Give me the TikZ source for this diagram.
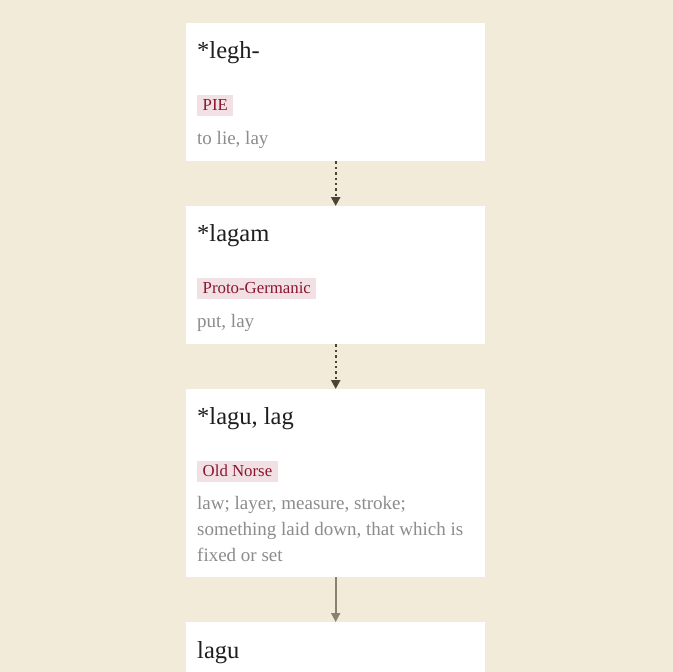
\documentclass[tikz,border=0pt]{standalone}
\usepackage{fontspec}
\setmainfont{Liberation Serif}
\usetikzlibrary{arrows.meta}
\definecolor{bgc}{HTML}{F2EBDA}
\definecolor{tagbg}{HTML}{F1E1E4}
\definecolor{tagfg}{HTML}{8A1530}
\definecolor{defc}{HTML}{8C8C8C}
\definecolor{titlec}{HTML}{1E1E1E}
\definecolor{dotc}{HTML}{4A4436}
\definecolor{solc}{HTML}{8A8271}
\tikzset{
  card/.style={fill=white, draw=none, inner sep=0pt, minimum width=299pt, anchor=north west},
  title/.style={anchor=base west, inner sep=0pt, text=titlec, font=\fontsize{24.5}{28}\selectfont},
  tag/.style={anchor=base west, fill=tagbg, text=tagfg, inner xsep=5.5pt, inner ysep=0pt, text height=15pt, text depth=5.5pt, font=\fontsize{16.8}{19}\selectfont},
  defn/.style={anchor=base west, inner sep=0pt, text=defc, font=\fontsize{19}{26}\selectfont},
  dotarrow/.style={dotc, line width=2.2pt, dash pattern=on 2.4pt off 3pt, -{Triangle[width=9pt,length=9pt]}},
  solarrow/.style={solc, line width=1.8pt, -{Triangle[width=9pt,length=9pt]}}
}
\begin{document}
\begin{tikzpicture}[x=1pt,y=-1pt]
\useasboundingbox (0,0) rectangle (672,672);
\fill[bgc] (-3,-3) rectangle (675,675);
\node[card, minimum height=138pt] (card1) at (186,23) {};
\node[card, minimum height=138pt] (card2) at (186,206) {};
\node[card, minimum height=188pt] (card3) at (186,389) {};
\node[card, minimum height=53pt] (card4) at (186,622) {};

\node[title] (t1) at (197,58) {*legh-};
\node[tag] (g1) at (197,110) {PIE};
\node[defn] (d1) at (197,144) {to lie, lay};

\node[title] (t2) at (197,241) {*lagam};
\node[tag] (g2) at (197,293) {Proto-Germanic};
\node[defn] (d2) at (197,327) {put, lay};

\node[title] (t3) at (197,424) {*lagu, lag};
\node[tag] (g3) at (197,476) {Old Norse};
\node[defn] (d3a) at (197,509) {law; layer, measure, stroke;};
\node[defn] (d3b) at (197,535) {something laid down, that which is};
\node[defn] (d3c) at (197,561) {fixed or set};

\node[title] (t4) at (197,658) {lagu};

\draw[dotarrow] (card1.south) -- (card2.north);
\draw[dotarrow] (card2.south) -- (card3.north);
\draw[solarrow] (card3.south) -- (card4.north);
\end{tikzpicture}
\end{document}
